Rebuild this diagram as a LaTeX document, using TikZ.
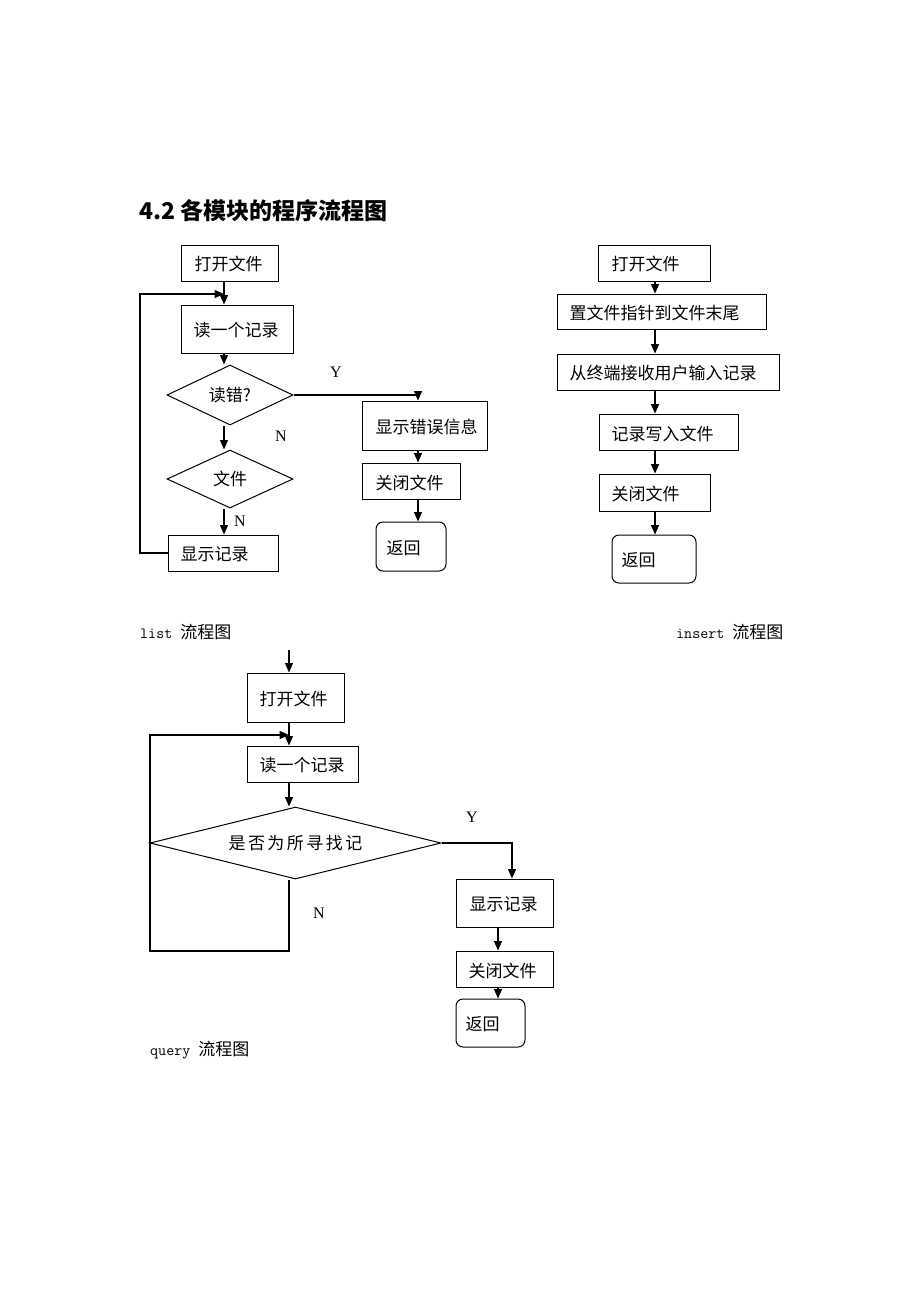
\documentclass[tikz,border=0pt]{standalone}
\usepackage{fontspec}
\setmainfont{Liberation Serif}
\newfontfamily\cjk{Noto Sans CJK SC}
\usetikzlibrary{shapes.geometric,arrows.meta}
\begin{document}
\begin{tikzpicture}[x=1pt,y=-1pt,
  bx/.style={draw,line width=1pt,inner sep=0pt},
  rbx/.style={bx,rounded corners=7pt},
  dia/.style={draw,line width=1pt,diamond,inner sep=0pt,font=\cjk\fontsize{17}{20}\selectfont},
  txt/.style={font=\cjk\fontsize{17}{20}\selectfont,inner sep=0pt,anchor=west,yshift=-1.5pt},
  lat/.style={font=\fontsize{16}{18}\selectfont,inner sep=0pt},
  captxt/.style={font=\ttfamily\fontsize{15.6}{18}\selectfont,inner sep=0pt,anchor=west},
  arr/.style={line width=1.3pt,-{Triangle[length=9.5pt,width=8pt]}},
  ln/.style={line width=1pt}]
\useasboundingbox (0,0) rectangle (920,1302);

\node[anchor=west,inner sep=0pt,font=\cjk\bfseries\fontsize{23}{26}\selectfont] (title) at (139,211) {4.2 各模块的程序流程图};

% ---------- list ----------
\coordinate (xl) at (224,0);
\coordinate (xr) at (418,0);
\coordinate (lp) at (140,294);
\node[bx,minimum width=97pt,minimum height=36pt] (l1) at (229.5,263) {};
\node[txt] (l1t) at ([xshift=14pt]l1.west) {打开文件};
\node[bx,minimum width=112pt,minimum height=48pt] (l2) at (237,329) {};
\node[txt] (l2t) at ([xshift=13pt]l2.west) {读一个记录};
\node[dia,shape aspect=2.1,minimum width=126pt,minimum height=60pt] (l3) at (230,395) {读错?};
\node[dia,shape aspect=2.1,minimum width=126pt,minimum height=58pt] (l4) at (230,479) {文件};
\node[bx,minimum width=110pt,minimum height=36pt] (l5) at (223,553) {};
\node[txt] (l5t) at ([xshift=13pt]l5.west) {显示记录};
\node[bx,minimum width=125pt,minimum height=49pt] (e1) at (424.5,425.5) {};
\node[txt] (e1t) at ([xshift=14pt]e1.west) {显示错误信息};
\node[bx,minimum width=98pt,minimum height=36pt] (e2) at (411,481) {};
\node[txt] (e2t) at ([xshift=14pt]e2.west) {关闭文件};
\node[rbx,minimum width=70pt,minimum height=49pt] (e3) at (411,546.5) {};
\node[txt] (e3t) at ([xshift=11pt]e3.west) {返回};

\draw[arr] (l1.south -| xl) -- (l2.north -| xl);
\draw[arr] (l2.south -| xl) -- (l3.north -| xl);
\draw[arr] (l3.south -| xl) -- (l4.north -| xl);
\draw[arr] (l4.south -| xl) -- (l5.north -| xl);
\draw[arr] (l5.west) -- (l5.west -| lp) -- (lp) -- (lp -| xl);
\draw[arr] (l3.east) -- (l3.east -| xr) -- (e1.north -| xr);
\draw[arr] (e1.south -| xr) -- (e2.north -| xr);
\draw[arr] (e2.south -| xr) -- (e3.north -| xr);
\node[lat] (ly) at (336,372) {Y};
\node[lat] (ln1) at (281,436) {N};
\node[lat] (ln2) at (240,521) {N};
\node[captxt] (cap1) at (140,632) {list {\cjk\fontsize{17}{20}\selectfont 流程图}};

% ---------- insert ----------
\coordinate (xi) at (655,0);
\node[bx,minimum width=112pt,minimum height=36pt] (i1) at (654,263) {};
\node[txt] (i1t) at ([xshift=14pt]i1.west) {打开文件};
\node[bx,minimum width=209pt,minimum height=35pt] (i2) at (661.5,311.5) {};
\node[txt] (i2t) at ([xshift=13pt]i2.west) {置文件指针到文件末尾};
\node[bx,minimum width=222pt,minimum height=36pt] (i3) at (668,372) {};
\node[txt] (i3t) at ([xshift=13pt]i3.west) {从终端接收用户输入记录};
\node[bx,minimum width=139pt,minimum height=36pt] (i4) at (668.5,432) {};
\node[txt] (i4t) at ([xshift=13pt]i4.west) {记录写入文件};
\node[bx,minimum width=111pt,minimum height=37pt] (i5) at (654.5,492.5) {};
\node[txt] (i5t) at ([xshift=13pt]i5.west) {关闭文件};
\node[rbx,minimum width=84pt,minimum height=48pt] (i6) at (654,559) {};
\node[txt] (i6t) at ([xshift=10pt]i6.west) {返回};
\draw[arr] (i1.south -| xi) -- (i2.north -| xi);
\draw[arr] (i2.south -| xi) -- (i3.north -| xi);
\draw[arr] (i3.south -| xi) -- (i4.north -| xi);
\draw[arr] (i4.south -| xi) -- (i5.north -| xi);
\draw[arr] (i5.south -| xi) -- (i6.north -| xi);
\node[captxt] (cap2) at (676,632) {insert {\cjk\fontsize{17}{20}\selectfont 流程图}};

% ---------- query ----------
\coordinate (xq) at (289,0);
\coordinate (xy) at (512,0);
\coordinate (xd) at (498,0);
\coordinate (lq) at (150,735);
\coordinate (bq) at (289,951);
\coordinate (q0) at (289,650);
\node[bx,minimum width=97pt,minimum height=49pt] (q1) at (295.5,697.5) {};
\node[txt] (q1t) at ([xshift=13pt]q1.west) {打开文件};
\node[bx,minimum width=111pt,minimum height=36pt] (q2) at (302.5,764) {};
\node[txt] (q2t) at ([xshift=13pt]q2.west) {读一个记录};
\node[dia,shape aspect=4,minimum width=291pt,minimum height=72pt] (q3) at (295.5,843) {是\hspace{2.5pt}否\hspace{2.5pt}为\hspace{2.5pt}所\hspace{2.5pt}寻\hspace{2.5pt}找\hspace{2.5pt}记};
\node[bx,minimum width=97pt,minimum height=48pt] (q4) at (504.5,903) {};
\node[txt] (q4t) at ([xshift=14pt]q4.west) {显示记录};
\node[bx,minimum width=97pt,minimum height=36pt] (q5) at (504.5,969) {};
\node[txt] (q5t) at ([xshift=13pt]q5.west) {关闭文件};
\node[rbx,minimum width=69pt,minimum height=48pt] (q6) at (490.5,1023) {};
\node[txt] (q6t) at ([xshift=10pt]q6.west) {返回};
\draw[arr] (q0) -- (q1.north -| xq);
\draw[arr] (q1.south -| xq) -- (q2.north -| xq);
\draw[arr] (q2.south -| xq) -- (q3.north -| xq);
\draw[arr] (q3.east) -- (q3.east -| xy) -- (q4.north -| xy);
\draw[arr] (q4.south -| xd) -- (q5.north -| xd);
\draw[arr] (q5.south -| xd) -- (q6.north -| xd);
\draw[arr] (q3.south -| xq) -- (bq) -- (bq -| lq) -- (lq) -- (lq -| xq);
\node[lat] (qy) at (472,817) {Y};
\node[lat] (qn) at (319,913) {N};
\node[captxt] (cap3) at (150,1050) {query {\cjk\fontsize{17}{20}\selectfont 流程图}};
\end{tikzpicture}
\end{document}
